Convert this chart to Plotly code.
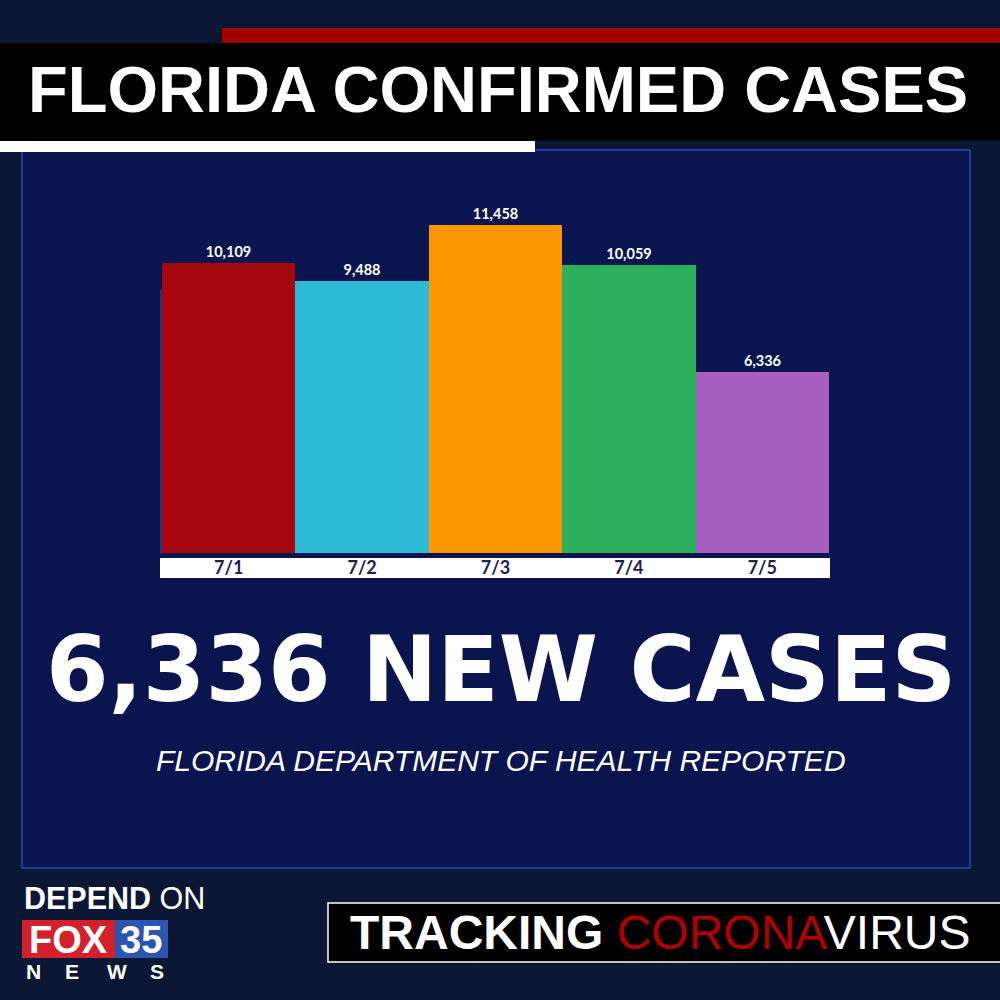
import plotly.graph_objects as go

# ---- data ----
dates = ["7/1", "7/2", "7/3", "7/4", "7/5"]
cases = [10109, 9488, 11458, 10059, 6336]
bar_colors = ["#a5070e", "#2dbad6", "#fb9500", "#2db05b", "#a65fbc"]
title_text = "FLORIDA CONFIRMED CASES"
headline = "6,336 NEW CASES"
source_text = "FLORIDA DEPARTMENT OF HEALTH REPORTED"
news_letters = ["N", "E", "W", "S"]

W = H = 1000


def px(x):
    return x / W


def py(y):
    return 1 - y / H


fig = go.Figure(
    go.Bar(
        x=dates,
        y=cases,
        width=1,
        marker=dict(color=bar_colors, line=dict(width=0)),
        texttemplate="<b>%{y:,}</b>",
        textposition="outside",
        textfont=dict(color="white", size=14.5, family="Lato, Open Sans, sans-serif"),
        cliponaxis=False,
        hoverinfo="skip",
    )
)

shapes = []


def rect(x0, y0, x1, y1, fill, line_color=None, line_width=0, layer="below"):
    shapes.append(
        dict(
            type="rect", xref="paper", yref="paper",
            x0=px(x0), x1=px(x1), y0=py(y1), y1=py(y0),
            fillcolor=fill,
            line=dict(color=line_color or fill, width=line_width),
            layer=layer,
        )
    )


# panel
rect(22, 150, 970, 868, "#0a1550", "#1e3d9a", 2)
# top red bar, black band, white bar
rect(222, 28, 1000, 43, "#a50000")
rect(0, 43, 1000, 141, "#000000")
rect(0, 141, 535, 152, "#ffffff")
# white strip behind date labels
rect(160, 558, 830, 578, "#ffffff")
# left faint axis line
shapes.append(dict(type="line", xref="paper", yref="y", x0=px(161), x1=px(161),
                   y0=0, y1=9200, line=dict(color="rgba(150,160,200,0.45)", width=1),
                   layer="below"))
# Tracking box
rect(328, 903, 1002, 962, "#000000", "#ffffff", 1.5, layer="above")
# FOX 35 logo boxes
rect(22, 920, 115, 958, "#d3202a", layer="above")
rect(115, 920, 168, 958, "#2a55b0", layer="above")

annotations = []


def text(x, y, s, size, color="white", family="Liberation Sans, Arial, sans-serif",
         xanchor="center", yanchor="middle"):
    annotations.append(
        dict(x=px(x), y=py(y), xref="paper", yref="paper", text=s, showarrow=False,
             xanchor=xanchor, yanchor=yanchor,
             font=dict(size=size, color=color, family=family))
    )


text(498, 90, "<b>" + title_text + "</b>", 65)
text(501, 669, "<b>" + headline + "</b>", 90, family="DejaVu Sans, sans-serif")
text(501, 760, "<i>" + source_text + "</i>", 30)
text(22, 898, "<b>DEPEND</b> ON", 30.5, xanchor="left")
text(68, 940, "<b>FOX</b>", 38)
text(141, 940, "<b>35</b>", 38)
for lx, letter in zip([33, 72, 117, 157], news_letters):
    text(lx, 971, "<b>" + letter + "</b>", 21)
text(660, 932,
     "<b>TRACKING </b><span style='color:#b00000'>CORONA</span>VIRUS", 48)

fig.update_layout(
    width=W, height=H,
    margin=dict(l=0, r=0, t=0, b=0),
    paper_bgcolor="#0b1734",
    plot_bgcolor="rgba(0,0,0,0)",
    showlegend=False,
    bargap=0,
    shapes=shapes,
    annotations=annotations,
    xaxis=dict(domain=[px(162), px(829)], showgrid=False, zeroline=False, showline=False,
               ticks="", ticklabelstandoff=1,
               tickfont=dict(size=18, color="#1b2350", family="Lato, Open Sans, sans-serif"),
               tickprefix="<b>", ticksuffix="</b>"),
    yaxis=dict(domain=[py(553.8), py(209.4)], range=[0, 12000], showgrid=False,
               zeroline=False, showline=False, showticklabels=False, ticks=""),
)

fig.write_html(
    "out.html",
    config={"displayModeBar": False},
    post_script="document.body.style.margin='0';document.body.style.overflow='hidden';",
)
